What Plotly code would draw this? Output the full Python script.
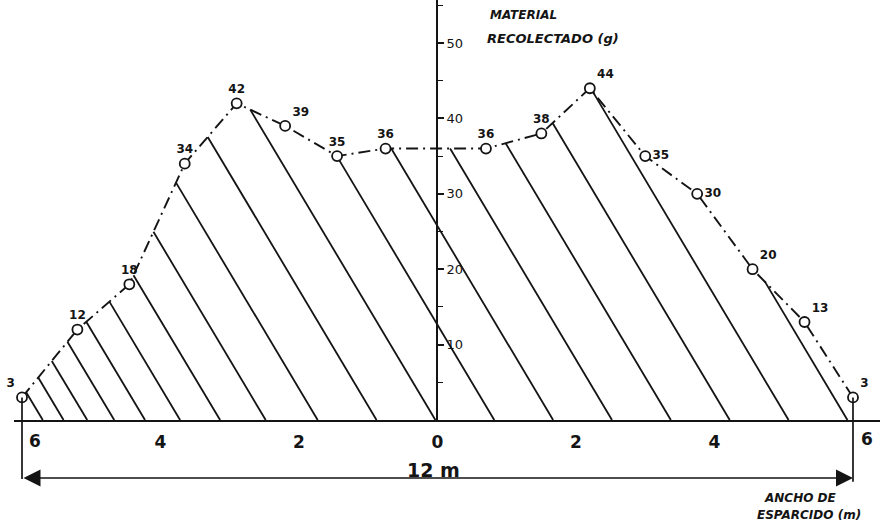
import numpy as np
import plotly.graph_objects as go

# Collector positions (m from the centre line) and collected material (g)
dist_left = [-6.0, -5.2, -4.45, -3.65, -2.9, -2.2, -1.45, -0.75]
vals_left = [3, 12, 18, 34, 42, 39, 35, 36]
dist_right = [0.7, 1.5, 2.2, 3.0, 3.75, 4.55, 5.3, 6.0]
vals_right = [36, 38, 44, 35, 30, 20, 13, 3]

x_tick_vals = [-4, -2, 0, 2, 4]
x_tick_text = ["4", "2", "0", "2", "4"]
y_tick_vals = [10, 20, 30, 40, 50]
spread_width_label = "12 m"

INK = "#141414"
HAND = "DejaVu Sans"

xs = np.array(dist_left + dist_right, dtype=float)
ys = np.array(vals_left + vals_right, dtype=float)

# --- diagonal hatching under the distribution curve -------------------------
HATCH_SLOPE = 15.4            # y-units per x-unit, lines run top-left -> bottom-right
grid = np.linspace(xs.min(), xs.max(), 6001)
top = np.interp(grid, xs, ys)
hx, hy = [], []
x0 = -5.7
while x0 < xs.max():
    line = HATCH_SLOPE * (x0 - grid)
    hit = (grid <= x0) & (line >= top)
    if hit.any():
        xe = grid[hit].max()
        ye = float(np.interp(xe, xs, ys))
    else:
        xe = xs.min()
        ye = HATCH_SLOPE * (x0 - xe)
    hx += [x0, xe, None]
    hy += [0, ye, None]
    x0 += min(0.85, 0.3 + 0.14 * (x0 + 5.7))

fig = go.Figure()
fig.add_trace(go.Scatter(x=hx, y=hy, mode="lines",
                         line=dict(color=INK, width=1.8), hoverinfo="skip"))

# dash-dot distribution curve
fig.add_trace(go.Scatter(x=xs, y=ys, mode="lines",
                         line=dict(color=INK, width=1.9, dash="12px,5px,2px,5px")))

# open-circle collectors with their values
positions = (["top left"] + ["top center"] * 4 + ["top right"] + ["top center"] * 2
             + ["top center"] * 2 + ["top right", "middle right", "middle right",
                                     "top right", "top right", "top right"])
fig.add_trace(go.Scatter(
    x=xs, y=ys, mode="markers+text",
    marker=dict(symbol="circle", size=10, color="white",
                line=dict(color=INK, width=1.8)),
    text=[str(v) for v in ys.astype(int)],
    textposition=positions,
    textfont=dict(family=HAND, size=12, color=INK, weight="bold"),
    cliponaxis=False,
))

# end verticals at +/-6 m (above and below the ground line)
for xe, v, bottom in ((dist_left[0], vals_left[0], 0.096), (dist_right[-1], vals_right[-1], 0.091)):
    fig.add_shape(type="line", xref="x", yref="y", x0=xe, x1=xe, y0=0, y1=v,
                  line=dict(color=INK, width=1.7))
    fig.add_shape(type="line", xref="x", yref="paper", x0=xe, x1=xe, y0=bottom, y1=0.2075,
                  line=dict(color=INK, width=1.7))

# dimension arrow for the total spread width
fig.add_annotation(x=dist_right[-1], y=0.0981, xref="x", yref="paper",
                   ax=dist_left[0], axref="x", ay=0, ayref="pixel",
                   text="", showarrow=True, arrowside="end+start",
                   arrowhead=2, arrowsize=2.0, arrowwidth=1.7, arrowcolor=INK)
fig.add_annotation(x=0, y=0.1132, xref="x", yref="paper", yanchor="middle",
                   xshift=-4, text=spread_width_label, showarrow=False,
                   font=dict(family=HAND, size=19, color=INK, weight="bold"))

# outer "6" labels sit just right of the end verticals
fig.add_annotation(x=dist_left[0], y=0.1679, xref="x", yref="paper", text="6",
                   showarrow=False, xanchor="left", yanchor="middle", xshift=5,
                   font=dict(family=HAND, size=17, color=INK, weight="bold"))
fig.add_annotation(x=dist_right[-1], y=0.1717, xref="x", yref="paper", text="6",
                   showarrow=False, xanchor="left", yanchor="middle", xshift=6,
                   font=dict(family=HAND, size=17, color=INK, weight="bold"))

# axis titles
for txt, xp, yp, sz in (("MATERIAL", 0.5477, 0.9717, 12),
                        ("RECOLECTADO (g)", 0.544, 0.9283, 13),
                        ("ANCHO DE", 0.855, 0.0604, 12),
                        ("ESPARCIDO (m)", 0.847, 0.0283, 12)):
    fig.add_annotation(x=xp, y=yp, xref="paper", yref="paper", text=txt,
                       showarrow=False, xanchor="left", yanchor="middle",
                       font=dict(family=HAND, size=sz, color=INK, style="italic",
                                 weight="bold"))

fig.update_layout(
    width=891, height=530,
    margin=dict(l=0, r=0, t=0, b=0),
    paper_bgcolor="white", plot_bgcolor="white",
    showlegend=False,
    xaxis=dict(domain=[14 / 891, 880 / 891], range=[-6.1155, 6.39], anchor="y",
               showline=True, linecolor=INK, linewidth=1.9,
               ticks="", tickvals=x_tick_vals, ticktext=x_tick_text,
               ticklabelstandoff=6,
               tickfont=dict(family=HAND, size=17, color=INK, weight="bold"),
               showgrid=False, zeroline=False, fixedrange=True),
    yaxis=dict(domain=[0.2075, 1], range=[0, 55.7], anchor="free",
               position=437 / 891, side="right",
               showline=True, linecolor=INK, linewidth=1.9,
               ticks="outside", ticklen=6, tickwidth=1.5, tickcolor=INK,
               tickvals=y_tick_vals,
               tickfont=dict(family=HAND, size=13, color=INK),
               minor=dict(dtick=5, tick0=0, ticks="outside", ticklen=5,
                          tickwidth=1.3, tickcolor=INK, showgrid=False),
               showgrid=False, zeroline=False, fixedrange=True),
)

fig.write_html("out.html")
